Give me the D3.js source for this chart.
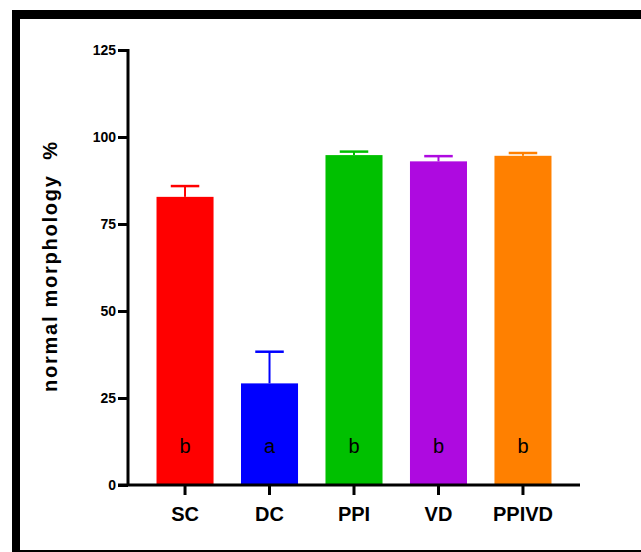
<!DOCTYPE html>
<html>
<head>
<meta charset="utf-8">
<script src="https://cdn.jsdelivr.net/npm/d3@7"></script>
<style>
  html, body { margin: 0; padding: 0; background: #fff; }
  svg { display: block; }
</style>
</head>
<body>
<svg id="chart" width="641" height="552"></svg>
<script>
// Group names, means, upper error and significance letters
const groups  = ["SC", "DC", "PPI", "VD", "PPIVD"];
const means   = [82.8, 29.2, 94.8, 93.0, 94.6];
const errors  = [3.1, 9.1, 1.0, 1.5, 0.8];
const letters = ["b", "a", "b", "b", "b"];
const colors  = ["#ff0000", "#0000ff", "#00c000", "#ae0ae0", "#ff8000"];
const yTicks  = [0, 25, 50, 75, 100, 125];

const svg = d3.select("#chart");
const font = "'Liberation Sans', Arial, sans-serif";

// frame around the figure
svg.append("rect").attr("x", 12).attr("y", 10).attr("width", 629).attr("height", 9).attr("fill", "#000");
svg.append("rect").attr("x", 12).attr("y", 10).attr("width", 8).attr("height", 542).attr("fill", "#000");
svg.append("rect").attr("x", 17).attr("y", 550).attr("width", 624).attr("height", 2).attr("fill", "#000");

const x = d3.scaleBand()
  .domain(groups)
  .range([128, 580])
  .paddingInner(0.325)
  .paddingOuter(0.3375);

const y = d3.scaleLinear().domain([0, 125]).range([485, 50]);

// bars
svg.append("g").selectAll("rect")
  .data(groups)
  .join("rect")
  .attr("x", d => x(d))
  .attr("y", (d, i) => y(means[i]))
  .attr("width", x.bandwidth())
  .attr("height", (d, i) => y(0) - y(means[i]))
  .attr("fill", (d, i) => colors[i]);

// upper error bars
const eb = svg.append("g");
groups.forEach((g, i) => {
  const cx = x(g) + x.bandwidth() / 2;
  const half = x.bandwidth() / 4;
  eb.append("line")
    .attr("x1", cx).attr("x2", cx)
    .attr("y1", y(means[i])).attr("y2", y(means[i] + errors[i]))
    .attr("stroke", colors[i]).attr("stroke-width", 2);
  eb.append("line")
    .attr("x1", cx - half).attr("x2", cx + half)
    .attr("y1", y(means[i] + errors[i])).attr("y2", y(means[i] + errors[i]))
    .attr("stroke", colors[i]).attr("stroke-width", 2.5);
});

// significance letters
svg.append("g").selectAll("text")
  .data(groups)
  .join("text")
  .attr("x", d => x(d) + x.bandwidth() / 2)
  .attr("y", y(0) - 32)
  .attr("text-anchor", "middle")
  .attr("font-family", font)
  .attr("font-size", 20)
  .attr("fill", "#000")
  .text((d, i) => letters[i]);

// y axis
const yAxis = svg.append("g")
  .attr("transform", "translate(128,0)")
  .call(d3.axisLeft(y).tickValues(yTicks).tickSize(10).tickPadding(2).tickFormat(d3.format("d")));
yAxis.select(".domain").attr("stroke", "#000").attr("stroke-width", 3)
  .attr("d", `M0,${y(125) - 1}V${y(0)}`);
yAxis.selectAll(".tick line").attr("stroke", "#000").attr("stroke-width", 3);
yAxis.selectAll(".tick text")
  .attr("font-family", font).attr("font-size", 14).attr("font-weight", "bold")
  .attr("fill", "#000");

// x axis
const xAxis = svg.append("g")
  .attr("transform", `translate(0,${y(0)})`)
  .call(d3.axisBottom(x).tickSize(10).tickPadding(12));
xAxis.select(".domain").attr("stroke", "#000").attr("stroke-width", 3)
  .attr("d", "M118,0H580");
xAxis.selectAll(".tick line").attr("stroke", "#000").attr("stroke-width", 3);
xAxis.selectAll(".tick text")
  .attr("font-family", font).attr("font-size", 20).attr("font-weight", "bold")
  .attr("fill", "#000");

// y axis title
svg.append("text")
  .attr("transform", "translate(57,267) rotate(-90)")
  .attr("text-anchor", "middle")
  .attr("font-family", font)
  .attr("font-size", 20)
  .attr("font-weight", "bold")
  .attr("fill", "#000")
  .attr("textLength", 250)
  .attr("lengthAdjust", "spacing")
  .style("white-space", "pre")
  .text("normal morphology  %");
</script>
</body>
</html>
